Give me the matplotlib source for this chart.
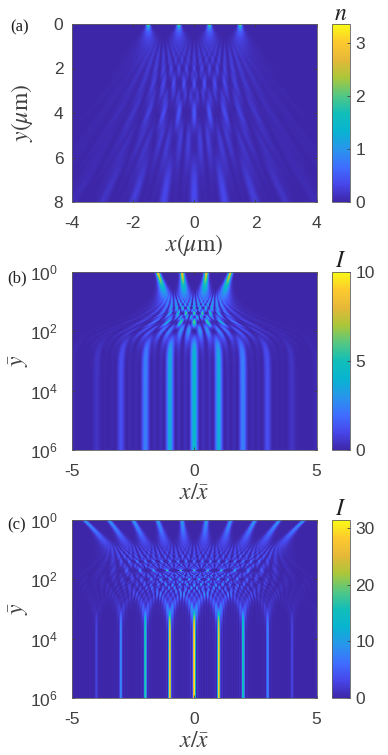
''' Three beam-interference heatmaps with parula colour bars. '''

import matplotlib
matplotlib.use('Agg')
import matplotlib.pyplot as plt
import numpy as np
from matplotlib.colors import LinearSegmentedColormap

plt.rcParams['font.family'] = ['Liberation Sans']
plt.rcParams['mathtext.fontset'] = 'stix'
plt.rcParams['axes.unicode_minus'] = False

# Values.
slits_four = [-1.5, -0.5, 0.5, 1.5]
slits_ten = [-4.5, -3.5, -2.5, -1.5, -0.5, 0.5, 1.5, 2.5, 3.5, 4.5]
a_xticks = [-4, -2, 0, 2, 4]
a_yticks = [0, 2, 4, 6, 8]
log_xticks = [-5, 0, 5]
log_yticks = [1, 100, 10000, 1000000]
a_cticks = [0, 1, 2, 3]
b_cticks = [0, 5, 10]
c_cticks = [0, 10, 20, 30]
a_cmax = 3.35
b_cmax = 10
c_cmax = 31.5
a_source_peak = 3.35
a_far_level = 0.42  # how much of the source peak is left below the bright spot
b_source_peak = 12.0
c_source_peak = 13.5
fringe_y_a = 8.0    # y where the fringe spacing reaches 1 in panel (a)
fringe_y_log = 50.0 # same for the log panels

parula_colors = [(0.2422, 0.1504, 0.6603), (0.2803, 0.2782, 0.9221),
                 (0.2440, 0.4358, 0.9988), (0.1540, 0.5902, 0.9218),
                 (0.0297, 0.7082, 0.8163), (0.0704, 0.7457, 0.7258),
                 (0.3300, 0.7800, 0.5100), (0.6720, 0.7793, 0.2227),
                 (0.9000, 0.7200, 0.2200), (0.9930, 0.7900, 0.1800),
                 (0.9769, 0.9839, 0.0805)]
parula = LinearSegmentedColormap.from_list('parula', parula_colors)

W, H = 388, 755
GRAY = '#404040'


def beams(x, zeta, slits, sigma):
    # The fringes are too fine to read cell by cell, so the field is a
    # modelled sum of coherent gaussian beams, not values read per cell.
    q = sigma**2 + 1j * zeta / (2 * np.pi)
    u = np.zeros_like(x, dtype=complex)
    for s in slits:
        u += np.sqrt(sigma**2 / q) * np.exp(-(x - s)**2 / (2 * q))
    return np.abs(u)**2


def field_linear(xv, yv, slits, sigma):
    X, Y = np.meshgrid(xv, yv)
    level = a_far_level + (1 - a_far_level) * np.exp(-Y / 0.08)
    return a_source_peak * level * beams(X, Y / fringe_y_a, slits, sigma)


def field_log(xv, yv, slits, sigma, peak):
    X, Y = np.meshgrid(xv, yv)
    zeta = Y / fringe_y_log
    xbar = np.sqrt((1 + 0.3 * np.log10(Y))**2 + zeta**2)
    return peak * xbar * beams(X * xbar, zeta, slits, sigma)


def axes_px(fig, left, top, right, bottom):
    return fig.add_axes([left / W, 1 - bottom / H, (right - left) / W, (bottom - top) / H])


def style(ax):
    ax.tick_params(direction='in', length=2.5, width=0.6, top=True, right=True,
                   labelsize=12.5, colors=GRAY)
    ax.tick_params(axis='x', pad=10)
    for sp in ax.spines.values():
        sp.set_linewidth(0.6)
        sp.set_color('#606060')


def labels(ax, xlabel, ylabel, xlabel_y, ylabel_x):
    ax.set_xlabel(xlabel, fontsize=17, color=GRAY, va='center')
    ax.set_ylabel(ylabel, fontsize=17, color=GRAY, va='center')
    ax.xaxis.set_label_coords(0.5, -xlabel_y / 178.0)
    ax.yaxis.set_label_coords((ylabel_x - 71.7) / 245.0, 0.5)


def panel(fig, top, bottom, xv, yv, data, cmax, cticks):
    ax = axes_px(fig, 71.7, top, 316.7, bottom)
    mesh = ax.pcolormesh(xv, yv, data, cmap=parula, vmin=0, vmax=cmax,
                         shading='auto', rasterized=True)
    style(ax)
    cax = axes_px(fig, 331.7, top, 349.7, bottom)
    cb = fig.colorbar(mesh, cax=cax)
    cb.set_ticks(cticks)
    cax.tick_params(direction='in', length=2.5, width=0.6, labelsize=12.5, colors=GRAY, pad=4)
    cb.outline.set_linewidth(0.6)
    cb.outline.set_edgecolor('#606060')
    return ax


def log_axis(ax):
    ax.set_yscale('log')
    ax.set_ylim(1e6, 1)
    ax.set_xticks(log_xticks)
    ax.set_yticks(log_yticks)
    ax.minorticks_off()
    ax.tick_params(axis='y', pad=10)
    labels(ax, r'$x/\bar{x}$', r'$\bar{y}$', 43, 19)


def plot_all():
    fig = plt.figure(figsize=(W / 100, H / 100), dpi=100)

    xa = np.linspace(-4, 4, 800)
    ya = np.linspace(0.002, 8, 500)
    ax = panel(fig, 24, 202, xa, ya, field_linear(xa, ya, slits_four, 0.055), a_cmax, a_cticks)
    ax.set_xlim(-4, 4)
    ax.set_ylim(8, 0)
    ax.set_xticks(a_xticks)
    ax.set_yticks(a_yticks)
    ax.tick_params(axis='y', pad=6)
    labels(ax, r'$x(\mu\mathrm{m})$', r'$y(\mu\mathrm{m})$', 43, 22)

    xl = np.linspace(-5, 5, 900)
    yl = np.logspace(0, 6, 900)
    ax = panel(fig, 271.7, 450, xl, yl, field_log(xl, yl, slits_four, 0.06, b_source_peak),
               b_cmax, b_cticks)
    log_axis(ax)

    ax = panel(fig, 520, 698, xl, yl, field_log(xl, yl, slits_ten, 0.062, c_source_peak),
               c_cmax, c_cticks)
    log_axis(ax)

    for label, px, py in [('(a)', 10, 31), ('(b)', 7, 282), ('(c)', 7, 529)]:
        fig.text(px / W, 1 - py / H, label, family='Liberation Serif', fontsize=12, color='#202020')
    for label, py in [('$n$', 20), ('$I$', 267), ('$I$', 515)]:
        fig.text(341 / W, 1 - py / H, label, fontsize=17, color='#202020', ha='center')

    fig.savefig('out.png', dpi=100)


if __name__ == '__main__':
    plot_all()
